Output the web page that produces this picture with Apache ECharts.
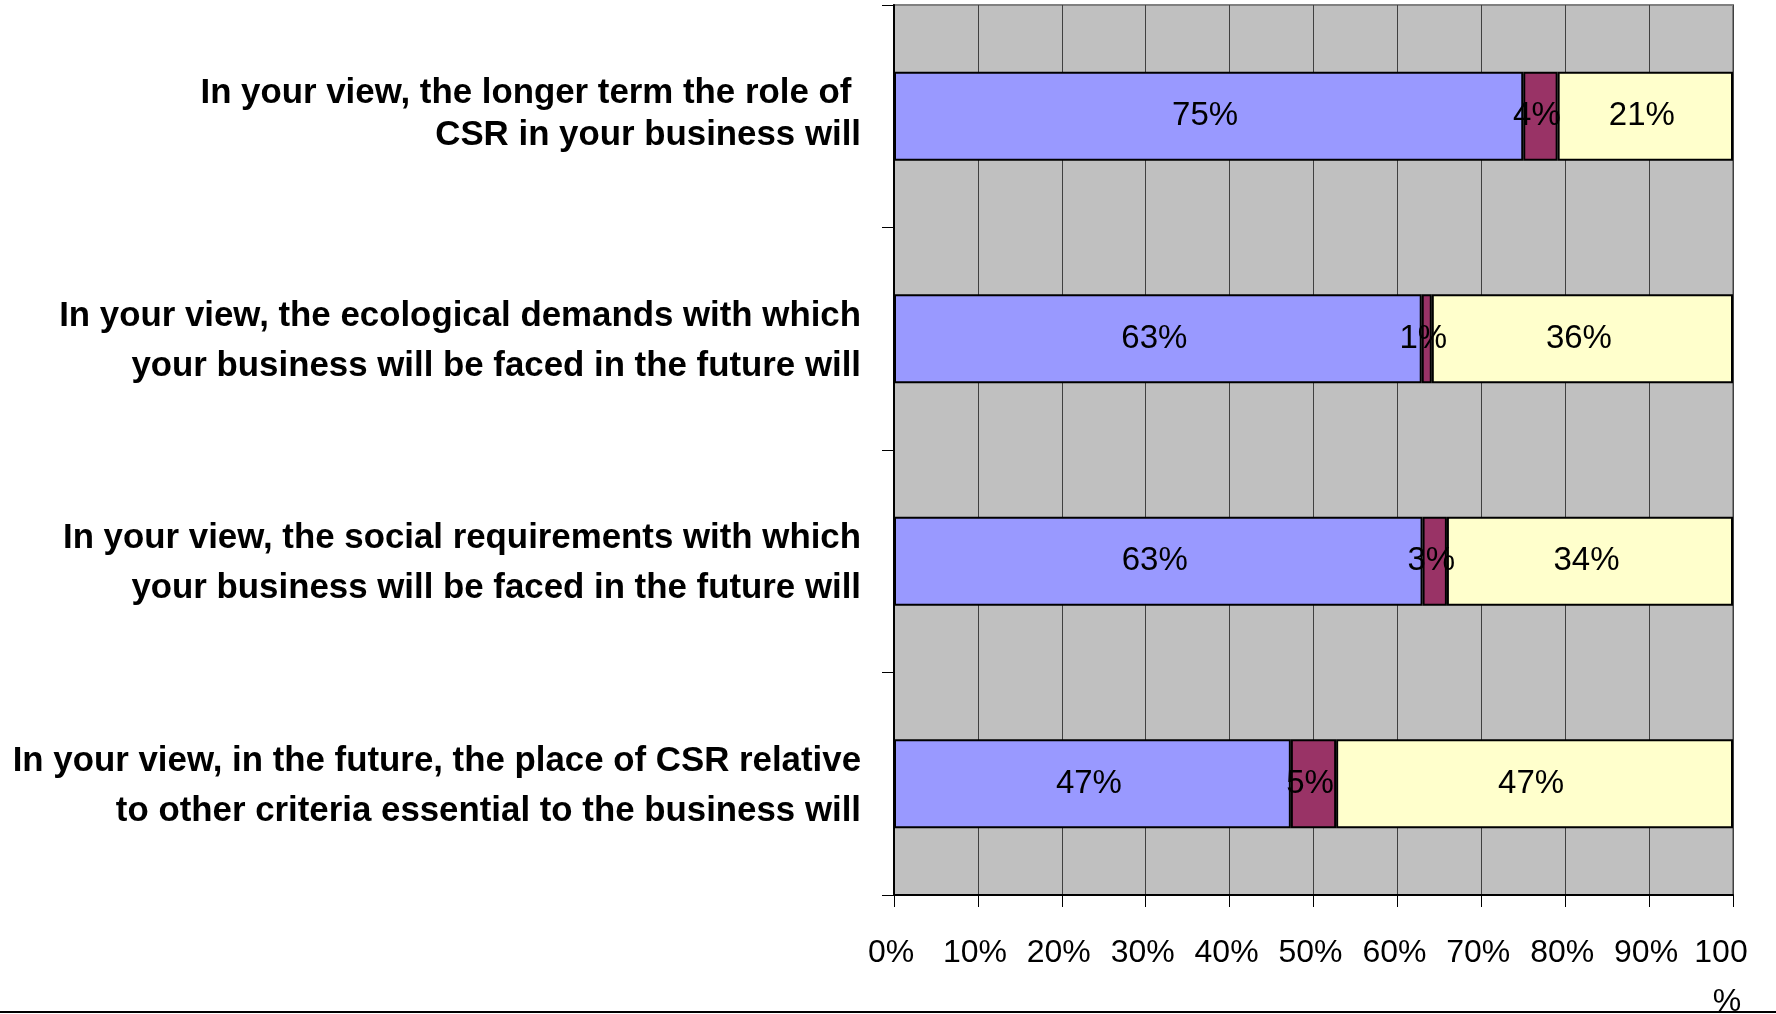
<!DOCTYPE html>
<html>
<head>
<meta charset="utf-8">
<style>
html,body{margin:0;padding:0;background:#fff;}
#chart{width:1776px;height:1014px;}
</style>
<script src="https://cdn.jsdelivr.net/npm/echarts@6/dist/echarts.min.js"></script>
</head>
<body>
<div id="chart"></div>
<script>
var categories = [
  "In your view, the longer term the role of \nCSR in your business will",
  "In your view, the ecological demands with which\nyour business will be faced in the future will",
  "In your view, the social requirements with which\nyour business will be faced in the future will",
  "In your view, in the future, the place of CSR relative\nto other criteria essential to the business will"
];
var seriesA = [75.0, 62.9, 63.0, 47.3];
var seriesB = [4.1, 1.2, 2.9, 5.4];
var seriesC = [20.9, 35.9, 34.1, 47.3];
var xTickLabels = ["0%","10%","20%","30%","40%","50%","60%","70%","80%","90%","100%"];

var FONT = "'Liberation Sans', Arial, sans-serif";
var CAT_FS = 34.85;
var chart = echarts.init(document.getElementById('chart'));

function seg(name, data, color) {
  return {
    name: name,
    type: 'bar',
    stack: 'total',
    barWidth: '40%',
    data: data,
    itemStyle: { color: color, borderColor: '#000', borderWidth: 2 },
    label: {
      show: true,
      position: 'inside',
      color: '#000',
      fontFamily: FONT,
      fontSize: 33,
      padding: [0, 7, 0, 0],
      formatter: function (p) { return Math.round(p.value) + '%'; }
    },
    emphasis: { disabled: true }
  };
}

chart.setOption({
  animation: false,
  backgroundColor: '#fff',
  grid: {
    left: 894, right: 43, top: 5, bottom: 119,
    show: true, backgroundColor: '#c0c0c0', borderColor: '#808080', borderWidth: 2,
    containLabel: false,
    outerBoundsMode: 'none'
  },
  xAxis: {
    type: 'value', min: 0, max: 100, interval: 10,
    axisLine: { show: true, lineStyle: { color: '#000', width: 2 } },
    axisTick: { show: true, length: 12, lineStyle: { color: '#000', width: 1 } },
    splitLine: { show: true, lineStyle: { color: '#404040', width: 1 } },
    axisLabel: {
      margin: 34, padding: [0, 6, 0, 0],
      color: '#000', fontFamily: FONT, fontSize: 32, lineHeight: 49,
      formatter: function (v) {
        var t = xTickLabels[Math.round(v / 10)];
        if (t === '100%') return '{a|100}\n{b|%}';
        return t;
      },
      rich: {
        a: { fontFamily: FONT, fontSize: 32, lineHeight: 49, color: '#000', padding: [0, 18, 0, 0] },
        b: { fontFamily: FONT, fontSize: 32, lineHeight: 49, color: '#000', padding: [0, 6, 0, 0] }
      }
    }
  },
  yAxis: {
    type: 'category', data: categories, inverse: true,
    axisLine: { show: true, lineStyle: { color: '#000', width: 2 } },
    axisTick: { show: true, length: 12, lineStyle: { color: '#000', width: 1 } },
    splitLine: { show: false },
    axisLabel: {
      margin: 33, color: '#000', fontFamily: FONT, fontSize: CAT_FS, fontWeight: 'bold',
      lineHeight: 50, align: 'right',
      formatter: function (value, index) {
        var key = index === 0 ? 's' : 'n';
        return value.split('\n').map(function (l) { return '{' + key + '|' + l + '}'; }).join('\n');
      },
      rich: {
        s: { fontFamily: FONT, fontSize: CAT_FS, fontWeight: 'bold', color: '#000', lineHeight: 42, padding: [0, 0, 3, 0] },
        n: { fontFamily: FONT, fontSize: CAT_FS, fontWeight: 'bold', color: '#000', lineHeight: 50, padding: [5, 0, 0, 0] }
      }
    }
  },
  series: [
    seg('A', seriesA, '#9999ff'),
    seg('B', seriesB, '#993366'),
    seg('C', seriesC, '#ffffcc')
  ],
  graphic: [{
    type: 'line', shape: { x1: 0, y1: 1012, x2: 1776, y2: 1012 },
    style: { stroke: '#000', lineWidth: 2 }, silent: true
  }]
});
</script>
</body>
</html>
